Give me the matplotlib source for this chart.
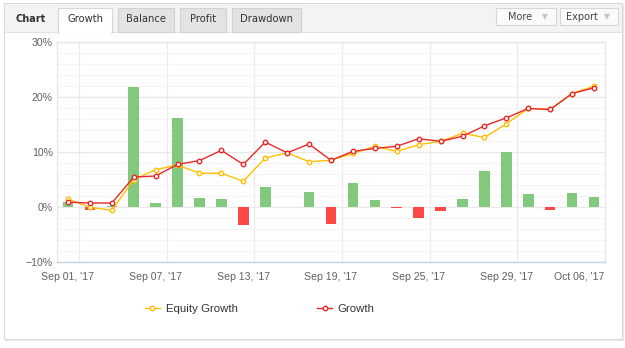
import matplotlib
matplotlib.use("Agg")
import matplotlib.pyplot as plt
from matplotlib.patches import Rectangle
from matplotlib.lines import Line2D
from matplotlib.transforms import ScaledTranslation

# ---------------- data ----------------
dates = ["Sep 01, '17", "Sep 04, '17", "Sep 05, '17", "Sep 06, '17",
         "Sep 07, '17", "Sep 08, '17", "Sep 11, '17", "Sep 12, '17",
         "Sep 13, '17", "Sep 14, '17", "Sep 15, '17", "Sep 18, '17",
         "Sep 19, '17", "Sep 20, '17", "Sep 21, '17", "Sep 22, '17",
         "Sep 25, '17", "Sep 26, '17", "Sep 27, '17", "Sep 28, '17",
         "Sep 29, '17", "Oct 03, '17", "Oct 04, '17", "Oct 05, '17",
         "Oct 06, '17"]
growth = [0.85, 0.7, 0.7, 5.4, 5.6, 7.7, 8.4, 10.25, 7.7, 11.75, 9.8, 11.4,
          8.45, 10.07, 10.6, 11.0, 12.36, 11.9, 12.8, 14.7, 16.15, 17.85,
          17.67, 20.56, 21.6]
equity = [1.4, -0.05, -0.65, 4.95, 6.75, 7.6, 6.1, 6.1, 4.65, 8.87, 9.8, 8.2,
          8.45, 9.7, 10.97, 10.07, 11.28, 11.9, 13.33, 12.6, 15.07, 17.85,
          17.67, 20.56, 21.9]
daily = [0.85, -0.5, 0.1, 21.8, 0.66, 16.2, 1.57, 1.4, -3.3, 3.6, 0.0, 2.78,
         -3.13, 4.28, 1.2, -0.24, -1.93, -0.72, 1.4, 6.45, 9.9, 2.3, -0.54,
         2.6, 1.75]
y_ticks = [-10, 0, 10, 20, 30]
y_tick_labels = ["\u221210%", "0%", "10%", "20%", "30%"]
tabs = ["Growth", "Balance", "Profit", "Drawdown"]
legend_labels = ["Equity Growth", "Growth"]

W, H = 625, 348
fig = plt.figure(figsize=(W / 100, H / 100), dpi=100)
fig.patch.set_facecolor("white")

def fx(x):
    return x / W

def fy(y):
    return 1 - y / H

def frect(x0, y0, x1, y1, **kw):
    r = Rectangle((fx(x0), fy(y1)), fx(x1) - fx(x0), fy(y0) - fy(y1),
                  transform=fig.transFigure, **kw)
    fig.add_artist(r)
    return r

# panel shadow + panel
frect(5, 5, 624, 341, facecolor="#e9e9e9", edgecolor="none", zorder=0)
frect(4, 3, 622, 339, facecolor="white", edgecolor="#d9d9d9", lw=0.8, zorder=0.5)
# header
frect(4.5, 3.5, 621.5, 32, facecolor="#f3f3f3", edgecolor="none", zorder=0.6)
fig.add_artist(Line2D([fx(4.5), fx(621.5)], [fy(32), fy(32)], color="#e2e2e2",
                      lw=0.8, transform=fig.transFigure, zorder=0.7))

fig.text(fx(15), fy(18.5), "Chart", fontsize=7, fontweight="bold", color="#333333",
         family="DejaVu Sans", ha="left", va="center", zorder=2)

tab_pos = [(58, 112), (118, 174), (180, 226), (232, 301)]
for i, (name, (a, b)) in enumerate(zip(tabs, tab_pos)):
    if i == 0:
        frect(a, 8, b, 32.6, facecolor="white", edgecolor="#d8d8d8", lw=0.8, zorder=1)
        frect(a + 0.6, 31, b - 0.6, 33.5, facecolor="white", edgecolor="none", zorder=1.1)
    else:
        frect(a, 8, b, 31.5, facecolor="#e3e3e3", edgecolor="#d2d2d2", lw=0.8, zorder=1)
    fig.text(fx((a + b) / 2), fy(19.5), name, fontsize=7.2, color="#333333",
             family="DejaVu Sans", ha="center", va="center", zorder=2)

for name, (a, b), tx in [("More", (496, 556), 520), ("Export", (560, 618), 582)]:
    frect(a, 8, b, 24.5, facecolor="#fafafa", edgecolor="#d6d6d6", lw=0.8, zorder=1)
    fig.text(fx(tx), fy(16.5), name, fontsize=7, color="#444444",
             family="DejaVu Sans", ha="center", va="center", zorder=2)
    fig.text(fx(b - 11), fy(16.5), "\u25BC", fontsize=5.5, color="#c4c4c4",
             family="DejaVu Sans", ha="center", va="center", zorder=2)

# ---------------- chart ----------------
L, R, T, B = 57, 605, 41.5, 262
ax = fig.add_axes([fx(L), fy(B), fx(R) - fx(L), fy(T) - fy(B)])
ax.set_zorder(3)
ax.patch.set_facecolor("white")

x = list(range(len(dates)))
bar_colors = ["#82c97d" if v >= 0 else "#ff4747" for v in daily]
ax.bar(x, daily, width=0.48, color=bar_colors, zorder=2)

ax.plot(x, equity, color="#ffbf00", lw=1.0, marker="o", markersize=3.2,
        markerfacecolor="white", markeredgecolor="#ffbf00", markeredgewidth=1.0,
        zorder=3, label=legend_labels[0])
ax.plot(x, growth, color="#e8282b", lw=1.0, marker="o", markersize=3.2,
        markerfacecolor="white", markeredgecolor="#e8282b", markeredgewidth=1.0,
        zorder=4, label=legend_labels[1])

ax.set_xlim(-0.5, len(dates) - 0.5)
ax.set_ylim(-10, 30)
ax.set_yticks(y_ticks)
ax.set_yticklabels(y_tick_labels)
ax.set_yticks([v for v in range(-10, 31, 2) if v % 10 != 0], minor=True)
ax.set_xticks(x[::4])
ax.set_xticklabels(dates[::4])
ax.set_xticks([v + 0.5 for v in x[::4][:-1]], minor=True)

ax.yaxis.grid(True, which="minor", color="#f4f4f4", lw=0.8, zorder=0)
ax.yaxis.grid(True, which="major", color="#e8e8e8", lw=1.0, zorder=0)
ax.xaxis.grid(True, which="minor", color="#ebebeb", lw=1.0, zorder=0)
ax.xaxis.grid(False, which="major")
ax.set_axisbelow(True)

ax.tick_params(which="both", length=0)
ax.tick_params(axis="y", pad=3, labelsize=7.6, labelcolor="#606060")
ax.tick_params(axis="x", pad=7, labelsize=7.6, labelcolor="#606060")
for lab in ax.get_xticklabels() + ax.get_yticklabels():
    lab.set_family("Liberation Sans")

last = ax.get_xticklabels()[-1]
last.set_transform(last.get_transform() + ScaledTranslation(-0.15, 0, fig.dpi_scale_trans))

for s in ["left", "top", "right"]:
    ax.spines[s].set_color("#e8e8e8")
    ax.spines[s].set_linewidth(1.0)
ax.spines["bottom"].set_color("#c6d4e2")
ax.spines["bottom"].set_linewidth(1.0)

handles, labels = ax.get_legend_handles_labels()
leg = fig.legend(handles, labels, loc="center left",
                 bbox_to_anchor=(fx(145), fy(309)), ncol=2, frameon=False,
                 borderaxespad=0, borderpad=0, handlelength=1.3,
                 handletextpad=0.5, columnspacing=7.0,
                 prop={"family": "Liberation Sans", "size": 8.2})
for t in leg.get_texts():
    t.set_color("#333333")

fig.savefig("out.png", dpi=100, facecolor="white")
